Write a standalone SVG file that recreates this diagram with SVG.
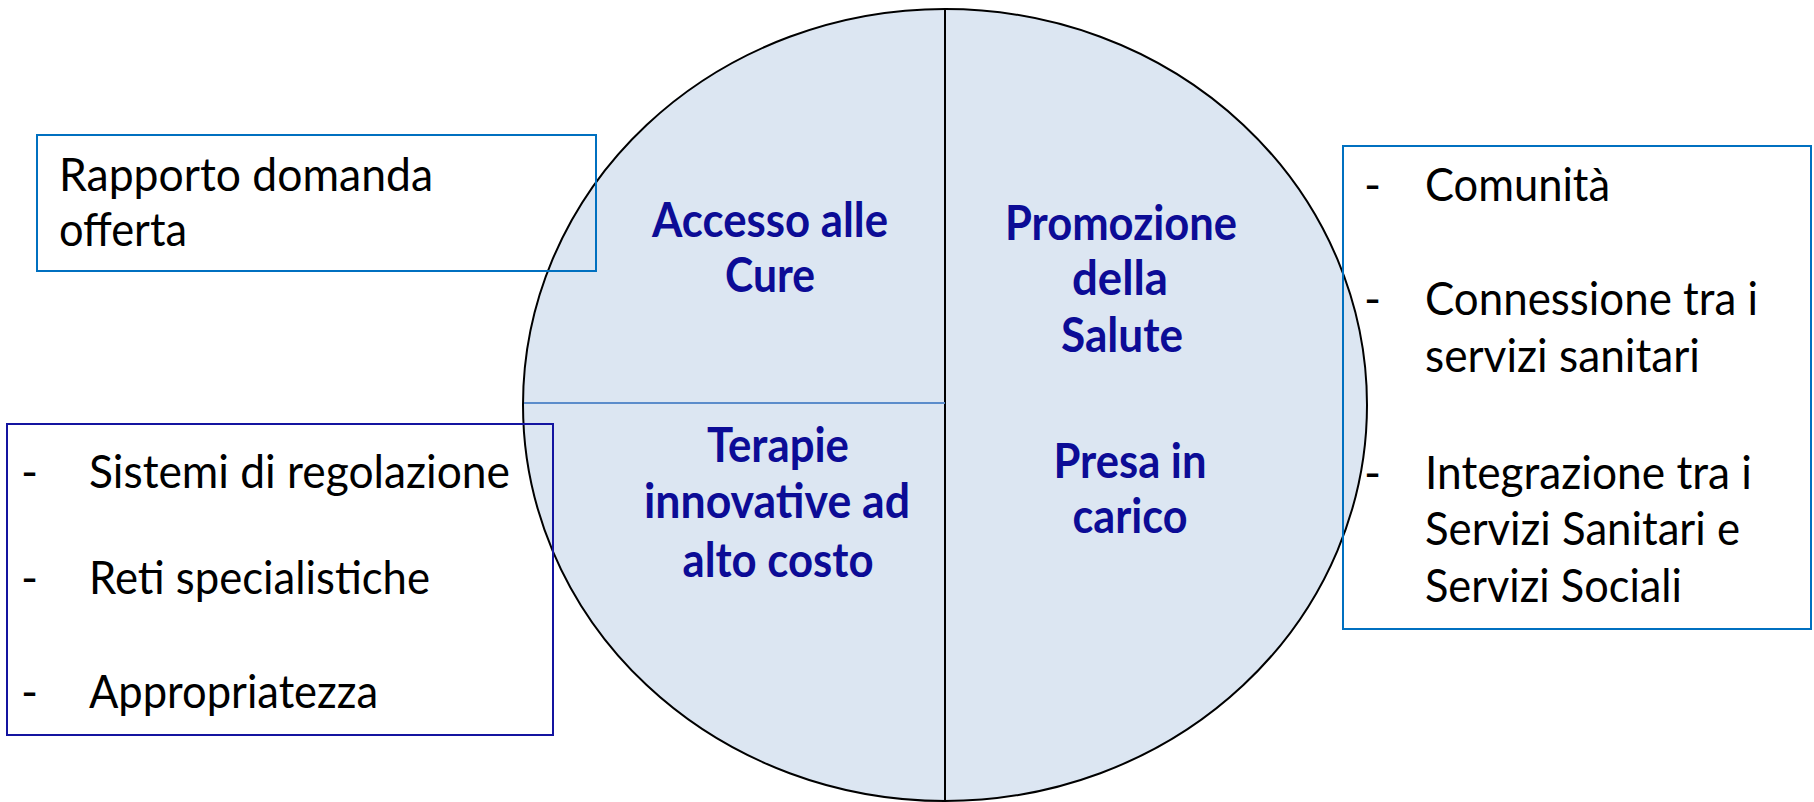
<svg xmlns="http://www.w3.org/2000/svg" width="1814" height="802" viewBox="0 0 1814 802">
<style>
.t{font-family:Lato,"Liberation Sans",sans-serif;font-size:46px;fill:#000}
.b{font-family:Lato,"Liberation Sans",sans-serif;font-size:47px;font-weight:bold;fill:#0C0C96;text-anchor:middle}
.box{fill:none;stroke-width:2}
</style>
<rect width="1814" height="802" fill="#fff"/>
<g id="circle">
<ellipse cx="945" cy="405" rx="422" ry="396" fill="#DCE6F2" stroke="#000" stroke-width="2"/>
</g>
<g id="dividers">
<line x1="945" y1="9" x2="945" y2="801" stroke="#000" stroke-width="2"/>
<line x1="524" y1="403" x2="945" y2="403" stroke="#5B8CCB" stroke-width="2"/>
</g>
<g id="q-accesso">
<text class="b" x="770" y="237" textLength="236" lengthAdjust="spacingAndGlyphs">Accesso alle</text>
<text class="b" x="770" y="292" textLength="90" lengthAdjust="spacingAndGlyphs">Cure</text>
</g>
<g id="q-promozione">
<text class="b" x="1121" y="240" textLength="232" lengthAdjust="spacingAndGlyphs">Promozione</text>
<text class="b" x="1120" y="295" textLength="96" lengthAdjust="spacingAndGlyphs">della</text>
<text class="b" x="1122" y="352" textLength="122" lengthAdjust="spacingAndGlyphs">Salute</text>
</g>
<g id="q-terapie">
<text class="b" x="778" y="462" textLength="142" lengthAdjust="spacingAndGlyphs">Terapie</text>
<text class="b" x="777" y="518" textLength="266" lengthAdjust="spacingAndGlyphs">innovative ad</text>
<text class="b" x="778" y="577" textLength="191" lengthAdjust="spacingAndGlyphs">alto costo</text>
</g>
<g id="q-presa">
<text class="b" x="1130" y="478" textLength="153" lengthAdjust="spacingAndGlyphs">Presa in</text>
<text class="b" x="1130" y="533" textLength="115" lengthAdjust="spacingAndGlyphs">carico</text>
</g>
<g id="box-rapporto">
<rect class="box" x="37" y="135" width="559" height="136" stroke="#0070C0"/>
<text class="t" x="59" y="191" textLength="374" lengthAdjust="spacingAndGlyphs">Rapporto domanda</text>
<text class="t" x="59" y="246" textLength="128" lengthAdjust="spacingAndGlyphs">offerta</text>
</g>
<g id="box-sistemi">
<rect class="box" x="7" y="424" width="546" height="311" stroke="#1414A0"/>
<text class="t" x="21" y="488">-</text>
<text class="t" x="89" y="488" textLength="421" lengthAdjust="spacingAndGlyphs">Sistemi di regolazione</text>
<text class="t" x="21" y="594">-</text>
<text class="t" x="89" y="594" textLength="341" lengthAdjust="spacingAndGlyphs">Reti specialistiche</text>
<text class="t" x="21" y="708">-</text>
<text class="t" x="89" y="708" textLength="289" lengthAdjust="spacingAndGlyphs">Appropriatezza</text>
</g>
<g id="box-comunita">
<rect class="box" x="1343" y="146" width="468" height="483" stroke="#0070C0"/>
<text class="t" x="1364" y="201">-</text>
<text class="t" x="1425" y="201" textLength="185" lengthAdjust="spacingAndGlyphs">Comunità</text>
<text class="t" x="1364" y="315">-</text>
<text class="t" x="1425" y="315" textLength="333" lengthAdjust="spacingAndGlyphs">Connessione tra i</text>
<text class="t" x="1425" y="372" textLength="275" lengthAdjust="spacingAndGlyphs">servizi sanitari</text>
<text class="t" x="1364" y="489">-</text>
<text class="t" x="1425" y="489" textLength="327" lengthAdjust="spacingAndGlyphs">Integrazione tra i</text>
<text class="t" x="1425" y="545" textLength="315" lengthAdjust="spacingAndGlyphs">Servizi Sanitari e</text>
<text class="t" x="1425" y="602" textLength="257" lengthAdjust="spacingAndGlyphs">Servizi Sociali</text>
</g>
</svg>
